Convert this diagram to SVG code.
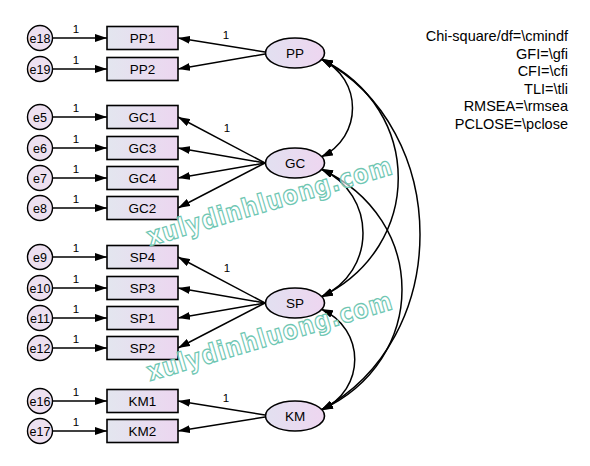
<svg xmlns="http://www.w3.org/2000/svg" width="590" height="466" viewBox="0 0 590 466">
<style>
text{font-family:"Liberation Sans",Arial,sans-serif;fill:#000}
.box{fill:url(#gBox);stroke:#000;stroke-width:1.6}
.lat{fill:url(#gLat);stroke:#000;stroke-width:1.6}
.err{fill:#ede0f0;stroke:#000;stroke-width:1.4}
.lbl{font-size:13.5px;text-anchor:middle}
.elbl{font-size:12.5px;text-anchor:middle}
.one{font-size:11.5px;text-anchor:middle}
.ln{stroke:#000;stroke-width:1.5;fill:none;marker-end:url(#ah)}
.cov{stroke:#000;stroke-width:1.5;fill:none;marker-start:url(#ah);marker-end:url(#ah)}
.stat{font-size:14.5px;text-anchor:end}
.wm{font-family:"DejaVu Sans",sans-serif;font-weight:bold;font-size:26px;fill:#ffffff;fill-opacity:0.6;stroke:#6fc7b3;stroke-width:1.3;letter-spacing:1px}
</style>
<defs>
<linearGradient id="gBox" x1="0" x2="1" y1="0" y2="0"><stop offset="0" stop-color="#e3e6ef"/><stop offset="1" stop-color="#ecd6f0"/></linearGradient>
<linearGradient id="gLat" x1="0" x2="1" y1="0" y2="0"><stop offset="0" stop-color="#e2e0f0"/><stop offset="1" stop-color="#eed6f0"/></linearGradient>
<marker id="ah" viewBox="0 0 12 8" refX="12" refY="4" markerWidth="12" markerHeight="8" markerUnits="userSpaceOnUse" orient="auto-start-reverse"><path d="M0,0 L12,4 L0,8 z" fill="#000"/></marker>
</defs>
<rect width="590" height="466" fill="#fff"/>

<g id="connectors">
<line class="ln" x1="52" y1="38" x2="107" y2="38"/>
<line class="ln" x1="52" y1="69" x2="107" y2="69"/>
<line class="ln" x1="52" y1="117" x2="107" y2="117"/>
<line class="ln" x1="52" y1="148" x2="107" y2="148"/>
<line class="ln" x1="52" y1="178" x2="107" y2="178"/>
<line class="ln" x1="52" y1="208" x2="107" y2="208"/>
<line class="ln" x1="52" y1="257" x2="107" y2="257"/>
<line class="ln" x1="52" y1="288" x2="107" y2="288"/>
<line class="ln" x1="52" y1="318" x2="107" y2="318"/>
<line class="ln" x1="52" y1="348" x2="107" y2="348"/>
<line class="ln" x1="52" y1="401" x2="107" y2="401"/>
<line class="ln" x1="52" y1="431" x2="107" y2="431"/>
<text class="one" x="76" y="33">1</text>
<text class="one" x="76" y="64">1</text>
<text class="one" x="76" y="112">1</text>
<text class="one" x="76" y="143">1</text>
<text class="one" x="76" y="173">1</text>
<text class="one" x="76" y="203">1</text>
<text class="one" x="76" y="252">1</text>
<text class="one" x="76" y="283">1</text>
<text class="one" x="76" y="313">1</text>
<text class="one" x="76" y="343">1</text>
<text class="one" x="76" y="396">1</text>
<text class="one" x="76" y="426">1</text>
<line class="ln" x1="265" y1="52" x2="178" y2="38"/>
<line class="ln" x1="265" y1="54" x2="178" y2="69"/>
<line class="ln" x1="265" y1="163" x2="178" y2="117"/>
<line class="ln" x1="265" y1="163" x2="178" y2="148"/>
<line class="ln" x1="265" y1="163" x2="178" y2="178"/>
<line class="ln" x1="265" y1="163" x2="178" y2="208"/>
<line class="ln" x1="265" y1="303" x2="178" y2="257"/>
<line class="ln" x1="265" y1="303" x2="178" y2="288"/>
<line class="ln" x1="265" y1="303" x2="178" y2="318"/>
<line class="ln" x1="265" y1="303" x2="178" y2="348"/>
<line class="ln" x1="265" y1="415" x2="178" y2="401"/>
<line class="ln" x1="265" y1="417" x2="178" y2="431"/>
<text class="one" x="226" y="39">1</text>
<text class="one" x="227" y="132">1</text>
<text class="one" x="227" y="272">1</text>
<text class="one" x="226" y="402">1</text>
<path class="cov" d="M321,59 C363,79 363,137 321,157"/>
<path class="cov" d="M321,59 C424,109 424,247 321,297"/>
<path class="cov" d="M321,59 C453,129 453,340 321,410"/>
<path class="cov" d="M321,169 C377,194 377,272 321,297"/>
<path class="cov" d="M321,169 C429,219 429,360 321,410"/>
<path class="cov" d="M321,309 C366,329 366,390 321,410"/>
</g>

<g id="e18"><circle class="err" cx="40" cy="38" r="12.5"/><text class="elbl" x="40" y="42.5">e18</text></g>
<g id="e19"><circle class="err" cx="40" cy="69" r="12.5"/><text class="elbl" x="40" y="73.5">e19</text></g>
<g id="e5"><circle class="err" cx="40" cy="117" r="12.5"/><text class="elbl" x="40" y="121.5">e5</text></g>
<g id="e6"><circle class="err" cx="40" cy="148" r="12.5"/><text class="elbl" x="40" y="152.5">e6</text></g>
<g id="e7"><circle class="err" cx="40" cy="178" r="12.5"/><text class="elbl" x="40" y="182.5">e7</text></g>
<g id="e8"><circle class="err" cx="40" cy="208" r="12.5"/><text class="elbl" x="40" y="212.5">e8</text></g>
<g id="e9"><circle class="err" cx="40" cy="257" r="12.5"/><text class="elbl" x="40" y="261.5">e9</text></g>
<g id="e10"><circle class="err" cx="40" cy="288" r="12.5"/><text class="elbl" x="40" y="292.5">e10</text></g>
<g id="e11"><circle class="err" cx="40" cy="318" r="12.5"/><text class="elbl" x="40" y="322.5">e11</text></g>
<g id="e12"><circle class="err" cx="40" cy="348" r="12.5"/><text class="elbl" x="40" y="352.5">e12</text></g>
<g id="e16"><circle class="err" cx="40" cy="401" r="12.5"/><text class="elbl" x="40" y="405.5">e16</text></g>
<g id="e17"><circle class="err" cx="40" cy="431" r="12.5"/><text class="elbl" x="40" y="435.5">e17</text></g>

<g id="PP1"><rect class="box" x="107" y="26.5" width="71" height="23"/><text class="lbl" x="142.5" y="42.5">PP1</text></g>
<g id="PP2"><rect class="box" x="107" y="57.5" width="71" height="23"/><text class="lbl" x="142.5" y="73.5">PP2</text></g>
<g id="GC1"><rect class="box" x="107" y="105.5" width="71" height="23"/><text class="lbl" x="142.5" y="121.5">GC1</text></g>
<g id="GC3"><rect class="box" x="107" y="136.5" width="71" height="23"/><text class="lbl" x="142.5" y="152.5">GC3</text></g>
<g id="GC4"><rect class="box" x="107" y="166.5" width="71" height="23"/><text class="lbl" x="142.5" y="182.5">GC4</text></g>
<g id="GC2"><rect class="box" x="107" y="196.5" width="71" height="23"/><text class="lbl" x="142.5" y="212.5">GC2</text></g>
<g id="SP4"><rect class="box" x="107" y="245.5" width="71" height="23"/><text class="lbl" x="142.5" y="261.5">SP4</text></g>
<g id="SP3"><rect class="box" x="107" y="276.5" width="71" height="23"/><text class="lbl" x="142.5" y="292.5">SP3</text></g>
<g id="SP1"><rect class="box" x="107" y="306.5" width="71" height="23"/><text class="lbl" x="142.5" y="322.5">SP1</text></g>
<g id="SP2"><rect class="box" x="107" y="336.5" width="71" height="23"/><text class="lbl" x="142.5" y="352.5">SP2</text></g>
<g id="KM1"><rect class="box" x="107" y="389.5" width="71" height="23"/><text class="lbl" x="142.5" y="405.5">KM1</text></g>
<g id="KM2"><rect class="box" x="107" y="419.5" width="71" height="23"/><text class="lbl" x="142.5" y="435.5">KM2</text></g>

<g id="PP"><ellipse class="lat" cx="295" cy="53" rx="29.5" ry="15"/><text class="lbl" x="295" y="57.5">PP</text></g>
<g id="GC"><ellipse class="lat" cx="295" cy="163" rx="29.5" ry="15"/><text class="lbl" x="295" y="167.5">GC</text></g>
<g id="SP"><ellipse class="lat" cx="295" cy="303" rx="29.5" ry="15"/><text class="lbl" x="295" y="307.5">SP</text></g>
<g id="KM"><ellipse class="lat" cx="295" cy="416" rx="29.5" ry="15"/><text class="lbl" x="295" y="420.5">KM</text></g>

<g id="stats">
<text class="stat" x="568" y="41">Chi-square/df=\cmindf</text>
<text class="stat" x="568" y="58.5">GFI=\gfi</text>
<text class="stat" x="568" y="76">CFI=\cfi</text>
<text class="stat" x="568" y="93.5">TLI=\tli</text>
<text class="stat" x="568" y="111">RMSEA=\rmsea</text>
<text class="stat" x="568" y="128.5">PCLOSE=\pclose</text>
</g>

<g id="watermark">
<text class="wm" transform="translate(150,246) rotate(-16.5)" textLength="255" lengthAdjust="spacingAndGlyphs">xulydinhluong.com</text>
<text class="wm" transform="translate(150,381) rotate(-16.5)" textLength="255" lengthAdjust="spacingAndGlyphs">xulydinhluong.com</text>
</g>
</svg>
